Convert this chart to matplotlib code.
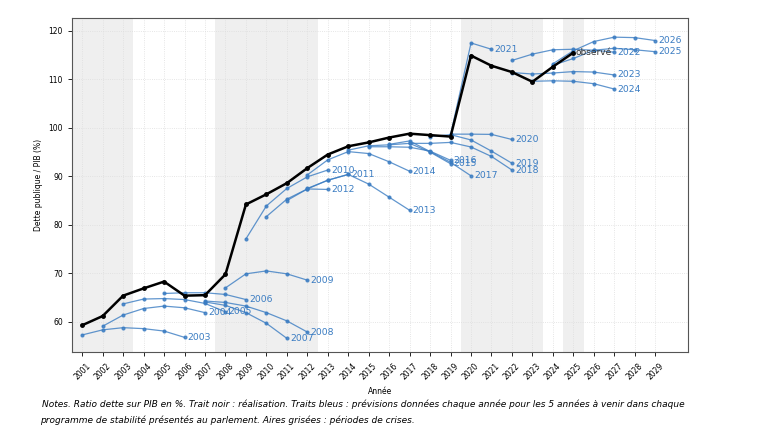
import matplotlib.pyplot as plt
from matplotlib import font_manager

# réalisation (trait noir)
annees_obs = list(range(2001, 2026))
dette_obs = [59.3, 61.2, 65.4, 66.9, 68.3, 65.4, 65.5, 69.8, 84.2, 86.3,
             88.6, 91.7, 94.5, 96.2, 97.0, 98.0, 98.8, 98.5, 98.2, 114.9,
             112.8, 111.5, 109.5, 112.6, 115.5]

# programmes de stabilité (traits bleus) : label -> (première année, valeurs)
prev_2003 = (2001, [57.3, 58.35, 58.8, 58.6, 58.1, 56.8])
prev_2004 = (2002, [59.1, 61.4, 62.75, 63.25, 62.9, 61.9])
prev_2005 = (2003, [63.7, 64.7, 64.8, 64.6, 63.8, 62.05])
prev_2006 = (2005, [65.85, 66.0, 66.0, 65.65, 64.6])
prev_2007 = (2007, [64.1, 63.4, 61.9, 59.7, 56.6])
prev_2008 = (2007, [64.3, 64.0, 63.25, 61.9, 60.2, 57.9])
prev_2009 = (2008, [67.0, 69.9, 70.5, 69.9, 68.6])
prev_2010 = (2009, [77.1, 83.9, 87.5, 89.9, 91.3])
prev_2011 = (2010, [81.7, 85.3, 87.4, 89.2, 90.4])
prev_2012 = (2011, [85.0, 87.4, 87.3])
prev_2013 = (2012, [87.5, 89.2, 90.4, 88.4, 85.7, 83.0])
prev_2014 = (2012, [90.3, 93.4, 95.1, 94.7, 93.0, 91.05])
prev_2015 = (2014, [95.4, 96.3, 96.5, 96.8, 95.0, 92.6])
prev_2016 = (2015, [96.1, 96.1, 96.0, 95.2, 93.3])
prev_2017 = (2016, [96.6, 97.3, 95.1, 92.9, 90.1])
prev_2018 = (2017, [96.8, 96.8, 97.0, 96.05, 94.1, 91.3])
prev_2019 = (2018, [98.2, 98.6, 97.5, 95.2, 92.7])
prev_2020 = (2019, [98.7, 98.7, 98.65, 97.6])
prev_2021 = (2019, [98.6, 117.5, 116.2])
prev_2022 = (2022, [113.9, 115.2, 116.1, 116.2, 116.0, 115.6])
prev_2023 = (2022, [111.4, 111.1, 111.3, 111.6, 111.5, 110.9])
prev_2024 = (2023, [109.6, 109.7, 109.6, 109.1, 108.0])
prev_2025 = (2024, [112.9, 114.3, 116.0, 116.4, 116.1, 115.7])
prev_2026 = (2024, [113.2, 115.9, 117.8, 118.7, 118.6, 118.0])

previsions = {
    '2003': prev_2003, '2004': prev_2004, '2005': prev_2005, '2006': prev_2006,
    '2007': prev_2007, '2008': prev_2008, '2009': prev_2009, '2010': prev_2010,
    '2011': prev_2011, '2012': prev_2012, '2013': prev_2013, '2014': prev_2014,
    '2015': prev_2015, '2016': prev_2016, '2017': prev_2017, '2018': prev_2018,
    '2019': prev_2019, '2020': prev_2020, '2021': prev_2021, '2022': prev_2022,
    '2023': prev_2023, '2024': prev_2024, '2025': prev_2025, '2026': prev_2026,
}

crises = [(2000.5, 2003.5), (2007.5, 2012.5), (2019.5, 2023.5), (2024.5, 2025.5)]

bleu = '#3a7cc2'

# police étroite pour les notes (proche de Calibri) si disponible
try:
    font_manager.findfont('Liberation Sans Narrow', fallback_to_default=False)
    notes_font, notes_size = 'Liberation Sans Narrow', 8.3
except ValueError:
    notes_font, notes_size = 'DejaVu Sans', 6.5

fig = plt.figure(figsize=(7.6, 4.34), dpi=100)
ax = fig.add_axes([0.0947, 0.188, 0.8105, 0.770])

for a, b in crises:
    ax.axvspan(a, b, color='#efefef', zorder=0, lw=0)

ax.grid(True, color='#dddddd', linestyle=':', linewidth=0.6, zorder=1)

for lab, (debut, vals) in previsions.items():
    xs = list(range(debut, debut + len(vals)))
    ax.plot(xs, vals, color=bleu, lw=0.9, marker='o', ms=2, alpha=0.8, zorder=2)
    ax.text(xs[-1] + 0.15, vals[-1], lab, color=bleu, fontsize=6.7,
            va='center', ha='left', zorder=4)

ax.plot(annees_obs, dette_obs, color='black', lw=1.8, marker='o', ms=2.5, zorder=3)
ax.text(annees_obs[-1] + 0.1, dette_obs[-1], 'observé', color='#333333',
        fontsize=6.5, va='center', ha='left', zorder=4)

ax.set_xlim(2000.5, 2030.6)
ax.set_ylim(53.7, 122.6)
ax.set_xticks(range(2001, 2030))
ax.set_xticklabels([str(y) for y in range(2001, 2030)], rotation=45, fontsize=5.5)
ax.set_yticks([60, 70, 80, 90, 100, 110, 120])
ax.tick_params(axis='y', labelsize=5.5, length=3, width=0.6)
ax.tick_params(axis='x', length=3, width=0.6)
ax.set_xlabel('Année', fontsize=5.5)
ax.set_ylabel('Dette publique / PIB (%)', fontsize=5.5)
for s in ax.spines.values():
    s.set_color('#555555')
    s.set_linewidth(0.8)

fig.text(0.055, 0.068,
         'Notes. Ratio dette sur PIB en %. Trait noir : réalisation. Traits bleus : '
         'prévisions données chaque année pour les 5 années à venir dans chaque',
         fontsize=notes_size, style='italic', ha='left', va='center',
         family=notes_font)
fig.text(0.053, 0.032,
         'programme de stabilité présentés au parlement. Aires grisées : périodes de crises.',
         fontsize=notes_size, style='italic', ha='left', va='center',
         family=notes_font)

fig.savefig('out.png', dpi=100)
